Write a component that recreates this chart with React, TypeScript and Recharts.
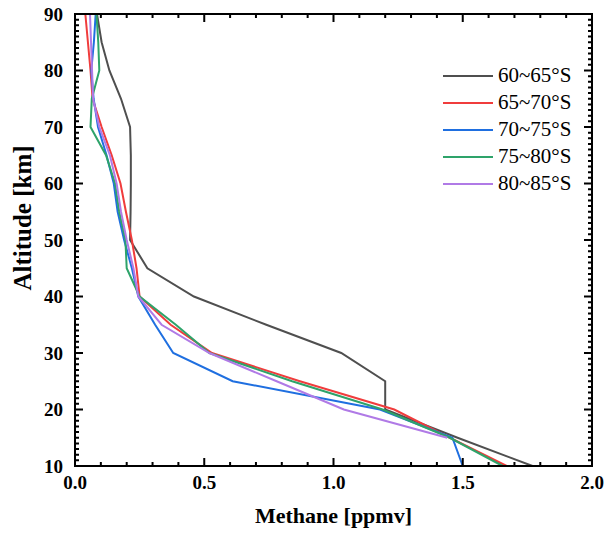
import React from 'react'
import { ScatterChart, Scatter, XAxis, YAxis } from 'recharts'

// altitude levels in km (every 5 km)
const altitudes = [10, 15, 20, 25, 30, 35, 40, 45, 50, 55, 60, 65, 70, 75, 80, 85, 90]

// methane mixing ratio (ppmv) per latitude band, one value per altitude level
const band60to65 = [1.77, 1.48, 1.2, 1.2, 1.03, 0.74, 0.46, 0.28, 0.213, 0.215, 0.216, 0.216, 0.213, 0.178, 0.133, 0.103, 0.085]
const band65to70 = [1.67, 1.45, 1.235, 0.87, 0.53, 0.37, 0.25, 0.238, 0.22, 0.197, 0.176, 0.142, 0.103, 0.068, 0.06, 0.05, 0.04]
const band70to75 = [1.5, 1.46, 1.18, 0.61, 0.38, 0.31, 0.245, 0.22, 0.19, 0.165, 0.15, 0.122, 0.089, 0.072, 0.063, 0.073, 0.08]
const band75to80 = [1.655, 1.45, 1.19, 0.84, 0.52, 0.39, 0.25, 0.2, 0.195, 0.171, 0.155, 0.12, 0.06, 0.065, 0.094, 0.09, 0.083]
// this band has no 10 km value
const band80to85 = [1.44, 1.04, 0.78, 0.52, 0.335, 0.245, 0.226, 0.2, 0.178, 0.161, 0.135, 0.094, 0.07, 0.066, 0.062, 0.058]

const seriesNames = ['60~65°S', '65~70°S', '70~75°S', '75~80°S', '80~85°S']
const seriesColors = ['#4f4f4f', '#f03c3c', '#1f6fe0', '#2ea36a', '#b07ae6']

const xLabels = [0, 0.5, 1, 1.5, 2]
const yLabels = [10, 20, 30, 40, 50, 60, 70, 80, 90]
const xMinor = Array.from({ length: 21 }, (_, i) => i / 10)
const yMinor = Array.from({ length: 81 }, (_, i) => 10 + i)

const toPoints = (values: number[]) => {
  const offset = altitudes.length - values.length
  return values.map((v, i) => ({ x: v, y: altitudes[i + offset] }))
}

const series = [band60to65, band65to70, band70to75, band75to80, band80to85].map((vals, i) => ({
  name: seriesNames[i],
  color: seriesColors[i],
  data: toPoints(vals),
}))

const W = 605
const H = 533
const MARGIN = { top: 14, right: 13, bottom: 0, left: 0 }
const Y_AXIS_W = 75
const X_AXIS_H = 67

// plot box, same as what the margins and axis sizes above leave over
const left = MARGIN.left + Y_AXIS_W
const top = MARGIN.top
const plotW = W - MARGIN.right - left
const plotH = H - X_AXIS_H - top
const sx = (v: number) => left + (v / 2) * plotW
const sy = (v: number) => top + plotH - ((v - 10) / 80) * plotH

const isMajorX = (v: number) => Math.abs(v * 2 - Math.round(v * 2)) < 1e-6

const serif = "'Liberation Serif', 'Times New Roman', serif"
const tickFont = { fontFamily: serif, fontWeight: 700, fontSize: 19, fill: '#000' }
const titleFont = { fontFamily: serif, fontWeight: 700, fontSize: 22, fill: '#000' }

// tick marks as one path per side, pointing into the plot
const bottomTicks = xMinor.map((v) => `M${sx(v)},${top + plotH}v${-(isMajorX(v) ? 8 : 4)}`).join('')
const topTicks = xMinor.map((v) => `M${sx(v)},${top}v${isMajorX(v) ? 8 : 4}`).join('')
const leftTicks = yMinor.map((v) => `M${left},${sy(v)}h${v % 10 === 0 ? 8 : 4}`).join('')
const rightTicks = yMinor.map((v) => `M${left + plotW},${sy(v)}h${-(v % 10 === 0 ? 8 : 4)}`).join('')

const Frame = () => (
  <svg width={W} height={H} style={{ position: 'absolute', left: 0, top: 0, pointerEvents: 'none' }}>
    <path d={bottomTicks + topTicks + leftTicks + rightTicks} stroke="#000" strokeWidth={2} fill="none" />
    <rect x={left} y={top} width={plotW} height={plotH} fill="none" stroke="#000" strokeWidth={2} />
  </svg>
)

const Legend = () => (
  <div style={{ position: 'absolute', top: 62, left: 443, fontFamily: serif, fontSize: 21, color: '#000' }}>
    {series.map((s) => (
      <div key={s.name} style={{ display: 'flex', alignItems: 'center', height: 27 }}>
        <div style={{ width: 50, height: 0, borderTop: `2px solid ${s.color}`, marginRight: 5 }} />
        <span style={{ lineHeight: '27px' }}>{s.name}</span>
      </div>
    ))}
  </div>
)

export default function App() {
  return (
    <div style={{ position: 'absolute', left: 0, top: 0, width: W, height: H, background: '#fff' }}>
      <ScatterChart width={W} height={H} margin={MARGIN}>
        <XAxis
          type="number"
          dataKey="x"
          domain={[0, 2]}
          ticks={xLabels}
          interval={0}
          height={X_AXIS_H}
          axisLine={false}
          tickLine={false}
          tickSize={4}
          tickFormatter={(v: number) => v.toFixed(1)}
          tick={{ ...tickFont, dy: 4 }}
          label={{ value: 'Methane [ppmv]', position: 'insideBottom', offset: 10, style: titleFont }}
        />
        <YAxis
          type="number"
          dataKey="y"
          domain={[10, 90]}
          ticks={yLabels}
          interval={0}
          width={Y_AXIS_W}
          axisLine={false}
          tickLine={false}
          tickSize={4}
          tickMargin={8}
          tick={tickFont}
          label={{
            content: () => (
              <text transform="translate(31, 218) rotate(-90)" textAnchor="middle" style={{ ...titleFont, fontSize: 25 }}>
                Altitude [km]
              </text>
            ),
          }}
        />
        {series.map((s) => (
          <Scatter
            key={s.name}
            name={s.name}
            data={s.data}
            fill={s.color}
            line={{ strokeWidth: 2 }}
            shape={() => <g />}
            isAnimationActive={false}
          />
        ))}
      </ScatterChart>
      <Frame />
      <Legend />
    </div>
  )
}
